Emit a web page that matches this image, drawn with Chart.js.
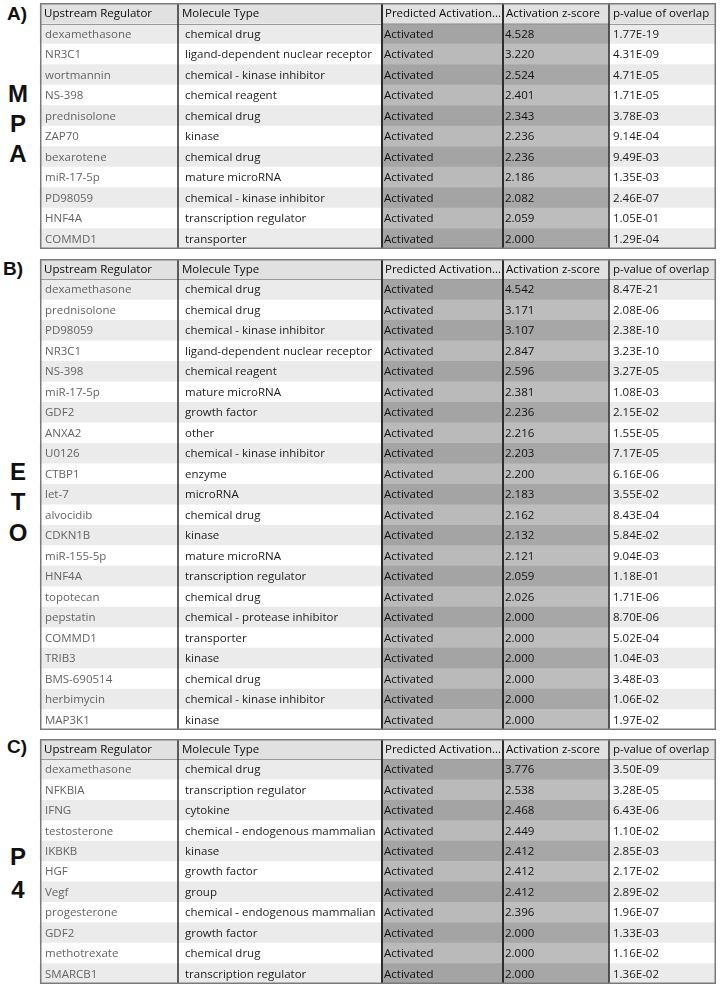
<!DOCTYPE html>
<html>
<head>
<meta charset="utf-8">
<script src="https://cdn.jsdelivr.net/npm/chart.js@4.4.1/dist/chart.umd.min.js"></script>
<style>
  body { margin: 0; background: #fff; width: 720px; height: 985px; position: relative; overflow: hidden; }
  canvas { position: absolute; left: 38px; }
  .tag { position: absolute; font: bold 19px "Liberation Sans", Arial, sans-serif; color: #111; }
  .side { position: absolute; left: 3px; width: 30px; text-align: center; font: bold 24px "Liberation Sans", Arial, sans-serif; color: #111; line-height: 24px; }
</style>
</head>
<body>
<div class="tag" style="left:7px;top:3px">A)</div>
<div class="tag" style="left:3px;top:258px">B)</div>
<div class="tag" style="left:7px;top:736px">C)</div>
<div class="side" style="top:82px">M</div>
<div class="side" style="top:112px">P</div>
<div class="side" style="top:142px">A</div>
<div class="side" style="top:460px">E</div>
<div class="side" style="top:490px">T</div>
<div class="side" style="top:521px">O</div>
<div class="side" style="top:845px">P</div>
<div class="side" style="top:878px">4</div>

<canvas id="mpaTable" width="682" height="246" style="top:3px"></canvas>
<canvas id="etoTable" width="682" height="471" style="top:259px"></canvas>
<canvas id="p4Table" width="682" height="245" style="top:739px"></canvas>

<script>
const headers = ['Upstream Regulator', 'Molecule Type', 'Predicted Activation...', 'Activation z-score', 'p-value of overlap'];
const predictedState = 'Activated';

// A) MPA
const mpaRegulators = ['dexamethasone', 'NR3C1', 'wortmannin', 'NS-398', 'prednisolone', 'ZAP70', 'bexarotene', 'miR-17-5p', 'PD98059', 'HNF4A', 'COMMD1'];
const mpaTypes = ['chemical drug', 'ligand-dependent nuclear receptor', 'chemical - kinase inhibitor', 'chemical reagent', 'chemical drug', 'kinase', 'chemical drug', 'mature microRNA', 'chemical - kinase inhibitor', 'transcription regulator', 'transporter'];
const mpaZScores = [4.528, 3.220, 2.524, 2.401, 2.343, 2.236, 2.236, 2.186, 2.082, 2.059, 2.000];
const mpaPValues = [1.77e-19, 4.31e-09, 4.71e-05, 1.71e-05, 3.78e-03, 9.14e-04, 9.49e-03, 1.35e-03, 2.46e-07, 1.05e-01, 1.29e-04];

// B) ETO
const etoRegulators = ['dexamethasone', 'prednisolone', 'PD98059', 'NR3C1', 'NS-398', 'miR-17-5p', 'GDF2', 'ANXA2', 'U0126', 'CTBP1', 'let-7', 'alvocidib', 'CDKN1B', 'miR-155-5p', 'HNF4A', 'topotecan', 'pepstatin', 'COMMD1', 'TRIB3', 'BMS-690514', 'herbimycin', 'MAP3K1'];
const etoTypes = ['chemical drug', 'chemical drug', 'chemical - kinase inhibitor', 'ligand-dependent nuclear receptor', 'chemical reagent', 'mature microRNA', 'growth factor', 'other', 'chemical - kinase inhibitor', 'enzyme', 'microRNA', 'chemical drug', 'kinase', 'mature microRNA', 'transcription regulator', 'chemical drug', 'chemical - protease inhibitor', 'transporter', 'kinase', 'chemical drug', 'chemical - kinase inhibitor', 'kinase'];
const etoZScores = [4.542, 3.171, 3.107, 2.847, 2.596, 2.381, 2.236, 2.216, 2.203, 2.200, 2.183, 2.162, 2.132, 2.121, 2.059, 2.026, 2.000, 2.000, 2.000, 2.000, 2.000, 2.000];
const etoPValues = [8.47e-21, 2.08e-06, 2.38e-10, 3.23e-10, 3.27e-05, 1.08e-03, 2.15e-02, 1.55e-05, 7.17e-05, 6.16e-06, 3.55e-02, 8.43e-04, 5.84e-02, 9.04e-03, 1.18e-01, 1.71e-06, 8.70e-06, 5.02e-04, 1.04e-03, 3.48e-03, 1.06e-02, 1.97e-02];

// C) P4
const p4Regulators = ['dexamethasone', 'NFKBIA', 'IFNG', 'testosterone', 'IKBKB', 'HGF', 'Vegf', 'progesterone', 'GDF2', 'methotrexate', 'SMARCB1'];
const p4Types = ['chemical drug', 'transcription regulator', 'cytokine', 'chemical - endogenous mammalian', 'kinase', 'growth factor', 'group', 'chemical - endogenous mammalian', 'growth factor', 'chemical drug', 'transcription regulator'];
const p4ZScores = [3.776, 2.538, 2.468, 2.449, 2.412, 2.412, 2.412, 2.396, 2.000, 2.000, 2.000];
const p4PValues = [3.50e-09, 3.28e-05, 6.43e-06, 1.10e-02, 2.85e-03, 2.17e-02, 2.89e-02, 1.96e-07, 1.33e-03, 1.16e-02, 1.36e-02];

// column widths of the table in px (layout only)
const colWidths = [138, 204, 121, 106, 107];
const textPad = [5, 7, 2, 2, 4];
const textColors = ['#646464', '#1c1c1c', '#111111', '#111111', '#1c1c1c'];

function formatP(v) {
    const parts = v.toExponential(2).split('e');
    const exp = parseInt(parts[1]);
    const sign = exp < 0 ? '-' : '+';
    return parts[0] + 'E' + sign + String(Math.abs(exp)).padStart(2, '0');
}

function cellColor(col, row) {
    if (row === 0) return '#e1e1e1';
    const shaded = row % 2 === 1;
    if (col === 2) return shaded ? '#a4a4a4' : '#bababa';
    if (col === 3) return shaded ? '#a7a7a7' : '#bdbdbd';
    return shaded ? '#ebebeb' : '#ffffff';
}

const tablePlugin = {
    id: 'tableText',
    afterDatasetsDraw(chart) {
        const ctx = chart.ctx;
        ctx.save();
        ctx.textBaseline = 'middle';
        chart.data.datasets.forEach((ds, c) => {
            const meta = chart.getDatasetMeta(c);
            meta.data.forEach((bar, i) => {
                const left = Math.min(bar.base, bar.x);
                const right = Math.max(bar.base, bar.x);
                ctx.save();
                ctx.beginPath();
                ctx.rect(left, bar.y - bar.height / 2, right - left - 2, bar.height);
                ctx.clip();
                ctx.font = '11.5px "Open Sans"';
                ctx.fillStyle = i === 0 ? '#0c0c0c' : textColors[c];
                ctx.fillText(ds.cellText[i], left + (i === 0 ? Math.min(textPad[c], 3) + 1 : textPad[c]), bar.y + 0.5);
                ctx.restore();
            });
        });

        // grid lines
        const first = chart.getDatasetMeta(0).data;
        const top = first[0].y - first[0].height / 2;
        const bottom = first[first.length - 1].y + first[first.length - 1].height / 2;
        const tableLeft = first[0].base;
        const lastMeta = chart.getDatasetMeta(chart.data.datasets.length - 1).data;
        const tableRight = lastMeta[0].x;
        const headerBottom = first[0].y + first[0].height / 2;

        ctx.strokeStyle = '#9a9a9a';
        ctx.lineWidth = 1;
        ctx.beginPath();
        ctx.moveTo(tableLeft, Math.round(headerBottom) + 0.5);
        ctx.lineTo(tableRight, Math.round(headerBottom) + 0.5);
        ctx.stroke();

        const dividerWidths = [1.5, 2, 2, 1.5];
        for (let c = 0; c < chart.data.datasets.length - 1; c++) {
            const bar = chart.getDatasetMeta(c).data[0];
            ctx.strokeStyle = '#2e2e2e';
            ctx.lineWidth = dividerWidths[c];
            ctx.beginPath();
            ctx.moveTo(bar.x, top);
            ctx.lineTo(bar.x, bottom);
            ctx.stroke();
        }

        ctx.strokeStyle = '#7a7a7a';
        ctx.lineWidth = 1.5;
        ctx.strokeRect(tableLeft + 0.75, top + 0.75, tableRight - tableLeft - 1.5, bottom - top - 1.5);
        ctx.restore();
    }
};

function buildTable(canvasId, regulators, types, zScores, pValues) {
    const columns = [
        [headers[0]].concat(regulators),
        [headers[1]].concat(types),
        [headers[2]].concat(regulators.map(() => predictedState)),
        [headers[3]].concat(zScores.map(z => z.toFixed(3))),
        [headers[4]].concat(pValues.map(formatP))
    ];
    const labels = [headers[0]].concat(regulators);
    return new Chart(document.getElementById(canvasId), {
        type: 'bar',
        data: {
            labels: labels,
            datasets: columns.map((texts, c) => ({
                label: headers[c],
                data: labels.map(() => colWidths[c]),
                cellText: texts,
                backgroundColor: (context) => cellColor(c, context.dataIndex),
                borderWidth: 0,
                categoryPercentage: 1,
                barPercentage: 1
            }))
        },
        options: {
            indexAxis: 'y',
            responsive: false,
            maintainAspectRatio: false,
            animation: false,
            layout: { padding: 0 },
            scales: {
                x: { stacked: true, min: -2, max: 680, display: false },
                y: { stacked: true, display: false }
            },
            plugins: {
                legend: { display: false },
                tooltip: { enabled: false }
            }
        },
        plugins: [tablePlugin]
    });
}

buildTable('mpaTable', mpaRegulators, mpaTypes, mpaZScores, mpaPValues);
buildTable('etoTable', etoRegulators, etoTypes, etoZScores, etoPValues);
buildTable('p4Table', p4Regulators, p4Types, p4ZScores, p4PValues);
</script>
</body>
</html>
